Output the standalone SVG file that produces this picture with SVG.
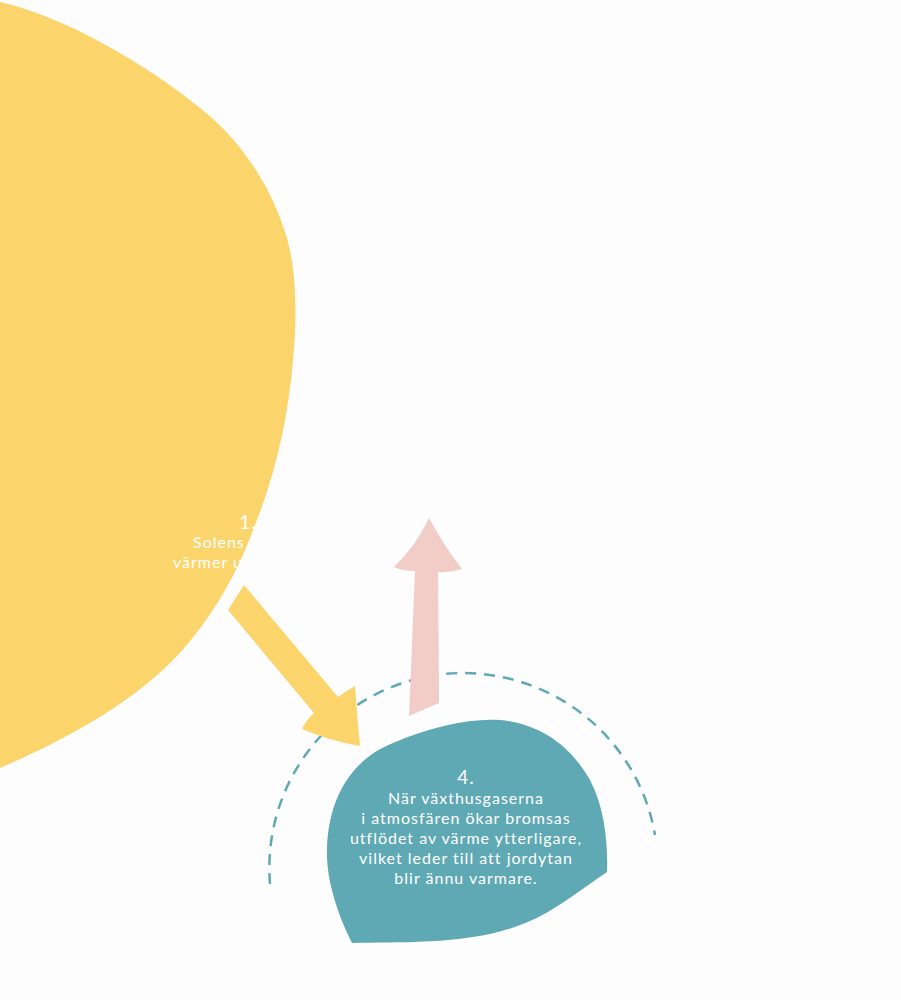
<svg xmlns="http://www.w3.org/2000/svg" width="901" height="1000" viewBox="0 0 901 1000">
<defs>
<style>
.lbl{font-family:Lato,"Open Sans","Liberation Sans",sans-serif;fill:#ffffff;text-anchor:middle;letter-spacing:1px}
.body{font-size:16px}
.num{font-size:19px}
.dash{fill:none;stroke:#5fa9b4;stroke-width:2.5;stroke-dasharray:11 8}
</style>
<clipPath id="sunclip">
<path d="M0,2 C60,15 145,62 205,112 C245,145 272,190 286,235 C297,270 297,320 293,360 C288,420 275,475 255,525 C235,580 205,630 165,668 C120,710 60,742 0,768 Z"/>
</clipPath>
</defs>
<rect width="901" height="1000" fill="#fdfdfd"/>
<g id="connectors">
<path class="dash" d="M270,884 A195,195 0 0 1 463,673 A195,195 0 0 1 655,835"/>
<path id="sun-arrow" fill="#fbd56b" d="M228,610 L244,585 L338,697 Q348,690 355,686 Q357,716 360,746 Q330,741 302,729 Q307,719 314,713 Z"/>
<path id="heat-arrow" fill="#f2cdc7" d="M409,716 L415,571 Q402,571 394,567 Q416,546 429,518 Q444,546 462,569 Q450,573 438,572 L439,703 Z"/>
</g>
<g id="sun">
<path fill="#fbd56b" d="M0,2 C60,15 145,62 205,112 C245,145 272,190 286,235 C297,270 297,320 293,360 C288,420 275,475 255,525 C235,580 205,630 165,668 C120,710 60,742 0,768 Z"/>
<g clip-path="url(#sunclip)">
<text class="lbl num" x="248" y="529">1.</text>
<text class="lbl body" x="193" y="548" style="text-anchor:start">Solens</text>
<text class="lbl body" x="173" y="568" style="text-anchor:start">värmer u</text>
</g>
</g>
<g id="node4">
<path fill="#5fa9b4" d="M352,943 C338,915 326,880 327,850 C328,800 350,760 393,743 C430,727 470,718 500,720 C540,724 570,745 590,780 C605,808 608,845 607,872 C580,890 550,915 520,925 C470,945 400,942 352,943 Z"/>
<text class="lbl num" x="466" y="784">4.</text>
<text class="lbl body" x="466" y="804">När växthusgaserna</text>
<text class="lbl body" x="466" y="824">i atmosfären ökar bromsas</text>
<text class="lbl body" x="466" y="844">utflödet av värme ytterligare,</text>
<text class="lbl body" x="466" y="864">vilket leder till att jordytan</text>
<text class="lbl body" x="466" y="884">blir ännu varmare.</text>
</g>
</svg>
